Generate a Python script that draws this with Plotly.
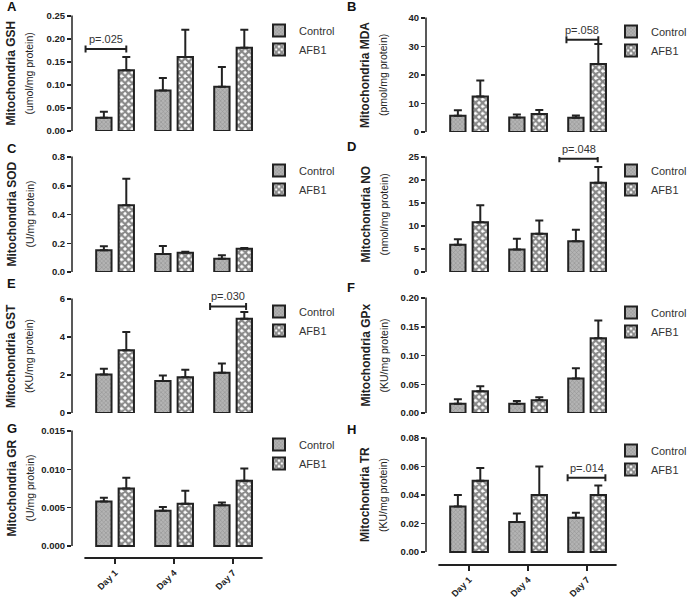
import plotly.graph_objects as go
from plotly.subplots import make_subplots

days = ["Day 1", "Day 4", "Day 7"]
groups = ["Control", "AFB1"]

panel_letters = ["A", "B", "C", "D", "E", "F", "G", "H"]
titles = ["Mitochondria GSH", "Mitochondria MDA", "Mitochondria SOD", "Mitochondria NO",
          "Mitochondria GST", "Mitochondria GPx", "Mitochondria GR", "Mitochondria TR"]
units = ["(umol/mg protein)", "(pmol/mg protein)", "(U/mg protein)", "(nmol/mg protein)",
         "(KU/mg protein)", "(KU/mg protein)", "(U/mg protein)", "(KU/mg protein)"]

# Means
gsh_control = [0.029, 0.088, 0.096]
gsh_afb1 = [0.132, 0.161, 0.181]
mda_control = [5.7, 5.1, 5.0]
mda_afb1 = [12.5, 6.3, 23.9]
sod_control = [0.151, 0.125, 0.093]
sod_afb1 = [0.464, 0.134, 0.162]
no_control = [5.9, 4.9, 6.7]
no_afb1 = [10.8, 8.3, 19.4]
gst_control = [2.02, 1.68, 2.12]
gst_afb1 = [3.30, 1.88, 4.96]
gpx_control = [0.016, 0.016, 0.060]
gpx_afb1 = [0.038, 0.022, 0.130]
gr_control = [0.0058, 0.0046, 0.0053]
gr_afb1 = [0.0075, 0.0055, 0.0085]
tr_control = [0.032, 0.021, 0.024]
tr_afb1 = [0.050, 0.040, 0.040]

# Upper error (SEM)
gsh_control_err = [0.013, 0.027, 0.043]
gsh_afb1_err = [0.029, 0.059, 0.039]
mda_control_err = [1.9, 1.0, 0.8]
mda_afb1_err = [5.6, 1.4, 7.0]
sod_control_err = [0.028, 0.056, 0.023]
sod_afb1_err = [0.185, 0.007, 0.005]
no_control_err = [1.2, 2.35, 2.5]
no_afb1_err = [3.7, 2.9, 3.4]
gst_control_err = [0.31, 0.30, 0.48]
gst_afb1_err = [0.96, 0.40, 0.36]
gpx_control_err = [0.008, 0.005, 0.018]
gpx_afb1_err = [0.0087, 0.0052, 0.031]
gr_control_err = [0.0005, 0.0005, 0.00037]
gr_afb1_err = [0.0014, 0.0017, 0.0016]
tr_control_err = [0.008, 0.006, 0.0035]
tr_afb1_err = [0.009, 0.020, 0.0067]

y_max = [0.25, 40, 0.8, 25, 6, 0.20, 0.015, 0.08]
y_dtick = [0.05, 10, 0.2, 5, 2, 0.05, 0.005, 0.02]
y_fmt = [".2f", "d", ".1f", "d", "d", ".2f", ".3f", ".2f"]

# p-value brackets: panel index, x start, x end (in day units), y level, label
brackets = [
    (0, -0.50, 0.19, 0.178, "p=.025"),
    (1, 1.65, 2.19, 32.4, "p=.058"),
    (3, 1.53, 2.18, 24.6, "p=.048"),
    (4, 1.61, 2.22, 5.61, "p=.030"),
    (7, 1.67, 2.31, 0.0521, "p=.014"),
]

controls = [gsh_control, mda_control, sod_control, no_control, gst_control, gpx_control, gr_control, tr_control]
afb1s = [gsh_afb1, mda_afb1, sod_afb1, no_afb1, gst_afb1, gpx_afb1, gr_afb1, tr_afb1]
controls_err = [gsh_control_err, mda_control_err, sod_control_err, no_control_err,
                gst_control_err, gpx_control_err, gr_control_err, tr_control_err]
afb1s_err = [gsh_afb1_err, mda_afb1_err, sod_afb1_err, no_afb1_err,
             gst_afb1_err, gpx_afb1_err, gr_afb1_err, tr_afb1_err]

W, H = 687, 598
def fx(px):
    return px / W
def fy(py):
    return 1 - py / H

# layout in pixels
col_left = [72, 426]
plot_w = 190.6
x_range = [-0.73, 2.5]
# (top px, zero px, bottom px)
rows_px = [(16, 131, 131), (18, 132, 132), (157, 272, 272), (157, 272, 272),
           (299, 413, 413), (298, 413, 413), (431, 546, 558), (438, 552, 565)]
legend_px = [(259, 16), (611, 17), (259, 156), (611, 156), (259, 297), (611, 298), (259, 430), (611, 436)]
letter_px = [(5, 7), (345, 7), (5, 148), (345, 147), (5, 283), (345, 287), (5, 428), (345, 429)]
title_x_px = [(11, 29), (365, 383)]

dark = "#222222"
offs = 0.19
bw = 0.26
xpos = list(range(len(days)))

fig = make_subplots(rows=4, cols=2)

shapes = []
annotations = []

for i in range(8):
    r, c = i // 2 + 1, i % 2 + 1
    col = i % 2
    top, zero, bot = rows_px[i]
    ymax = y_max[i]
    per_px = ymax / (zero - top)
    ymin = -(bot - zero) * per_px
    leg = "legend" if i == 0 else f"legend{i+1}"
    fig.add_trace(go.Bar(
        x=[p - offs for p in xpos], y=controls[i], width=bw, name=groups[0],
        marker=dict(color="#9c9c9c", line=dict(color=dark, width=2),
                    pattern=dict(shape="x", size=3, solidity=0.35, fgcolor="#6e6e6e", bgcolor="#b4b4b4")),
        error_y=dict(type="data", array=controls_err[i], arrayminus=[0]*3, symmetric=False,
                     color=dark, thickness=2, width=4),
        legend=leg, showlegend=True,
    ), row=r, col=c)
    fig.add_trace(go.Bar(
        x=[p + offs for p in xpos], y=afb1s[i], width=bw, name=groups[1],
        marker=dict(color="white", line=dict(color=dark, width=2),
                    pattern=dict(shape="x", size=5, solidity=0.7, fgcolor="#111111", bgcolor="white")),
        error_y=dict(type="data", array=afb1s_err[i], arrayminus=[0]*3, symmetric=False,
                     color=dark, thickness=2, width=4),
        legend=leg, showlegend=True,
    ), row=r, col=c)

    xa = fig.layout[f"xaxis{i+1}" if i else "xaxis"]
    ya = fig.layout[f"yaxis{i+1}" if i else "yaxis"]
    x0 = col_left[col]
    xa.update(domain=[fx(x0), fx(x0 + plot_w)], range=x_range, showgrid=False, zeroline=False,
              showline=False, tickmode="array", tickvals=xpos,
              ticktext=days if i >= 6 else ["", "", ""],
              ticks="outside" if i >= 6 else "", ticklen=5, tickwidth=2, tickcolor=dark,
              tickangle=-45, tickfont=dict(family="Arial", size=9, color=dark, weight="bold"),
              showticklabels=i >= 6, automargin=False, fixedrange=True)
    ya.update(domain=[fy(bot), fy(top)], range=[ymin, ymax], showgrid=False, zeroline=False,
              showline=False, tickmode="linear", tick0=0, dtick=y_dtick[i], tickformat=y_fmt[i],
              ticks="outside", ticklen=4, tickwidth=1.5, tickcolor=dark, automargin=False,
              fixedrange=True,
              tickfont=dict(family="Arial", size=9.5, color=dark, weight="bold"))
    # y axis line (from 0 to max)
    shapes.append(dict(type="line", xref="paper", yref="paper", x0=fx(x0), x1=fx(x0),
                       y0=fy(zero), y1=fy(top) + 0.5 / H, line=dict(color=dark, width=1.5)))
    if i >= 6:
        # x axis line offset below zero
        ax0 = x0 + (-0.52 - x_range[0]) / (x_range[1] - x_range[0]) * plot_w
        ax1 = x0 + plot_w
        shapes.append(dict(type="line", xref="paper", yref="paper", x0=fx(ax0), x1=fx(ax1),
                           y0=fy(bot), y1=fy(bot), line=dict(color=dark, width=2)))
    # panel letter
    lx, ly = letter_px[i]
    annotations.append(dict(text=f"<b>{panel_letters[i]}</b>", xref="paper", yref="paper",
                            x=fx(lx), y=fy(ly), xanchor="left", yanchor="middle", showarrow=False,
                            font=dict(family="Arial", size=13, color="#111111")))
    # y titles
    ymid = fy((top + zero) / 2)
    tx1, tx2 = title_x_px[col]
    annotations.append(dict(text=f"<b>{titles[i]}</b>", xref="paper", yref="paper",
                            x=fx(tx1), y=ymid, xanchor="center", yanchor="middle", textangle=-90,
                            showarrow=False, font=dict(family="Arial", size=12, color=dark)))
    annotations.append(dict(text=units[i], xref="paper", yref="paper",
                            x=fx(tx2), y=ymid, xanchor="center", yanchor="middle", textangle=-90,
                            showarrow=False, font=dict(family="Arial", size=10.5, color=dark)))
    # legend
    lgx, lgy = legend_px[i]
    fig.layout[leg] = dict(x=fx(lgx), y=fy(lgy), xanchor="left", yanchor="top",
                           bgcolor="rgba(0,0,0,0)", font=dict(family="Arial", size=11, color="#333333"),
                           tracegroupgap=0, itemwidth=30)

for (pi, xs, xe, yv, lab) in brackets:
    xr = f"x{pi+1}" if pi else "x"
    yr = f"y{pi+1}" if pi else "y"
    top, zero, bot = rows_px[pi]
    cap = 3.5 * y_max[pi] / (zero - top)
    shapes.append(dict(type="line", xref=xr, yref=yr, x0=xs, x1=xe, y0=yv, y1=yv,
                       line=dict(color=dark, width=2)))
    for xx in (xs, xe):
        shapes.append(dict(type="line", xref=xr, yref=yr, x0=xx, x1=xx, y0=yv - cap, y1=yv + cap,
                           line=dict(color=dark, width=2)))
    annotations.append(dict(text=lab, xref=xr, yref=yr, x=(xs + xe) / 2, y=yv, yshift=10,
                            showarrow=False, xanchor="center", yanchor="middle",
                            font=dict(family="Arial", size=11, color="#333333")))

fig.update_layout(width=W, height=H, margin=dict(l=0, r=0, t=0, b=0, autoexpand=False),
                  plot_bgcolor="white", paper_bgcolor="white", barmode="overlay",
                  shapes=shapes, annotations=annotations, hovermode=False)

fig.write_html("out.html", config={"displayModeBar": False, "staticPlot": True},
               post_script="document.body.style.margin='0';document.body.style.padding='0';")
